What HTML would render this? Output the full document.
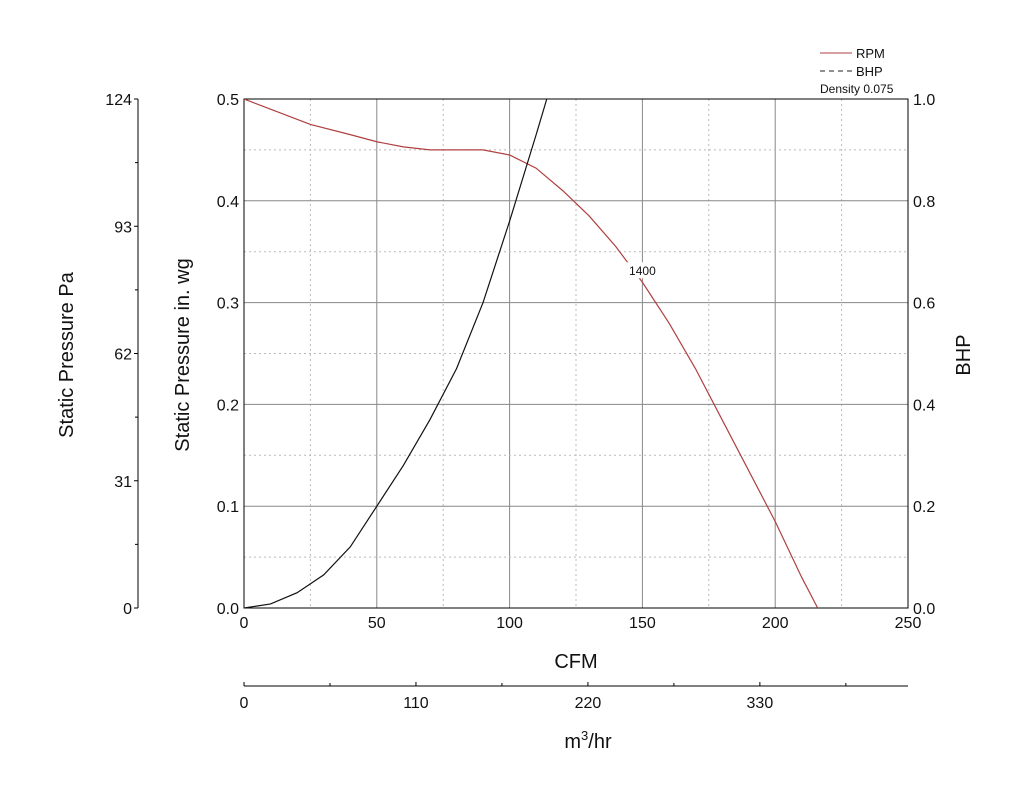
<!DOCTYPE html>
<html><head><meta charset="utf-8"><style>
html,body{margin:0;padding:0;background:#fff;}
svg text{font-family:"Liberation Sans",Arial,sans-serif;fill:#111;}
</style></head><body>
<svg id="chart" width="1024" height="788" xmlns="http://www.w3.org/2000/svg">
<g id="grid"></g>
<g id="axes"></g>
<g id="series"></g>
<g>
  <line x1="820" y1="53" x2="852" y2="53" stroke="#b04040" stroke-width="1"/>
  <text x="856" y="58" font-size="13">RPM</text>
  <line x1="820" y1="71" x2="852" y2="71" stroke="#222" stroke-width="1" stroke-dasharray="5,4"/>
  <text x="856" y="76" font-size="13">BHP</text>
  <text x="820" y="93" font-size="12">Density 0.075</text>
</g>
</svg>
<script>
const cfmTicks=[0,50,100,150,200,250];
const spTicks=["0.0","0.1","0.2","0.3","0.4","0.5"];
const bhpTicks=["0.0","0.2","0.4","0.6","0.8","1.0"];
const paTicks=[0,31,62,93,124];
const m3Ticks=[0,110,220,330];
const rpmCfm=[0,10,25,40,50,60,70,80,90,100,110,120,130,140,150,160,170,180,190,200,210,216];
const rpmSp=[0.5,0.49,0.475,0.465,0.458,0.453,0.45,0.45,0.45,0.445,0.432,0.41,0.385,0.355,0.32,0.28,0.235,0.185,0.135,0.085,0.03,0];
const bhpCfm=[0,10,20,30,40,50,60,70,80,90,100,110,114];
const bhpVal=[0,0.008,0.03,0.065,0.12,0.2,0.28,0.37,0.47,0.6,0.76,0.93,1.0];
const rpmLabel="1400";

const L=244,R=908,T=99,B=608;
const x=c=>L+(R-L)*c/250;
const y=v=>B-(B-T)*v/0.5;
const yb=v=>B-(B-T)*v/1.0;
const ns="http://www.w3.org/2000/svg";
function mk(tag,at,parent,txt){const e=document.createElementNS(ns,tag);for(const k in at)e.setAttribute(k,at[k]);if(txt!==undefined)e.textContent=txt;parent.appendChild(e);return e;}
const grid=document.getElementById('grid'),axes=document.getElementById('axes'),series=document.getElementById('series');

for(let c=25;c<250;c+=25){
  const major=c%50===0;
  const g=mk('line',{x1:x(c),x2:x(c),y1:T,y2:B,stroke:major?'#888':'#bbb','stroke-width':1,'stroke-dasharray':major?'none':'2,3'},grid);
  
  
}
for(let i=1;i<10;i++){
  const v=i*0.05,major=i%2===0;
  const g=mk('line',{x1:L,x2:R,y1:y(v),y2:y(v),stroke:major?'#888':'#bbb','stroke-width':1,'stroke-dasharray':major?'none':'2,3'},grid);
  
  
}
const frame=mk('rect',{x:L,y:T,width:R-L,height:B-T,fill:'none',stroke:'#000','stroke-width':1},axes);



cfmTicks.forEach(c=>{const t=mk('text',{x:x(c),y:B+20,'font-size':16,'text-anchor':'middle'},axes,c);
  });
spTicks.forEach((s,i)=>{const t=mk('text',{x:L-5,y:y(i*0.1)+6,'font-size':16,'text-anchor':'end'},axes,s);
  });
bhpTicks.forEach((s,i)=>{const t=mk('text',{x:R+5,y:yb(i*0.2)+6,'font-size':16},axes,s);
  });

// Pa axis
const PX=138;
const pa=mk('line',{x1:PX,x2:PX,y1:T,y2:B,stroke:'#000'},axes);

paTicks.forEach(p=>{const yy=B-(B-T)*p/124;
  mk('line',{x1:PX-4,x2:PX,y1:yy,y2:yy,stroke:'#000'},axes);
  const t=mk('text',{x:PX-6,y:yy+6,'font-size':16,'text-anchor':'end'},axes,p);
  });
for(let p=15.5;p<124;p+=31){const yy=B-(B-T)*p/124;mk('line',{x1:PX-3,x2:PX,y1:yy,y2:yy,stroke:'#000'},axes);}

// m3/hr axis
const MY=686;
const ma=mk('line',{x1:L,x2:R,y1:MY,y2:MY,stroke:'#000'},axes);

const xm=m=>x(m/1.699);
m3Ticks.forEach(m=>{mk('line',{x1:xm(m),x2:xm(m),y1:MY-4,y2:MY,stroke:'#000'},axes);
  const t=mk('text',{x:xm(m),y:MY+22,'font-size':16,'text-anchor':'middle'},axes,m);
  });
for(let m=55;m<420;m+=110){mk('line',{x1:xm(m),x2:xm(m),y1:MY-3,y2:MY,stroke:'#000'},axes);}

// titles
let t=mk('text',{x:576,y:668,'font-size':20,'text-anchor':'middle'},axes,'CFM');

t=mk('text',{x:588,y:748,'font-size':20,'text-anchor':'middle'},axes);

t.innerHTML='m<tspan font-size="13" dy="-8">3</tspan><tspan dy="8">/hr</tspan>';
t=mk('text',{transform:'translate(189,355) rotate(-90)','font-size':20,'text-anchor':'middle'},axes,'Static Pressure in. wg');

t=mk('text',{transform:'translate(73,355) rotate(-90)','font-size':20,'text-anchor':'middle'},axes,'Static Pressure Pa');

t=mk('text',{transform:'translate(970,355) rotate(-90)','font-size':20,'text-anchor':'middle'},axes,'BHP');


// series
const defs=mk('defs',{},series);
const cp=mk('clipPath',{id:'clip'},defs);mk('rect',{x:L,y:T,width:R-L,height:B-T},cp);
const rp=mk('path',{d:rpmCfm.map((c,i)=>(i?'L':'M')+x(c)+','+y(rpmSp[i])).join(''),fill:'none',stroke:'#b04040','stroke-width':1.2,'clip-path':'url(#clip)'},series);

const bp=mk('path',{d:bhpCfm.map((c,i)=>(i?'L':'M')+x(c)+','+yb(bhpVal[i])).join(''),fill:'none',stroke:'#111','stroke-width':1.2,'clip-path':'url(#clip)'},series);

const li=rpmCfm.indexOf(150);
const lb=mk('rect',{x:x(rpmCfm[li])-18,y:y(rpmSp[li])-20,width:36,height:16,fill:'#fff'},series);

t=mk('text',{x:x(rpmCfm[li]),y:y(rpmSp[li])-7,'font-size':12,'text-anchor':'middle'},series,rpmLabel);

</script>
</body></html>
